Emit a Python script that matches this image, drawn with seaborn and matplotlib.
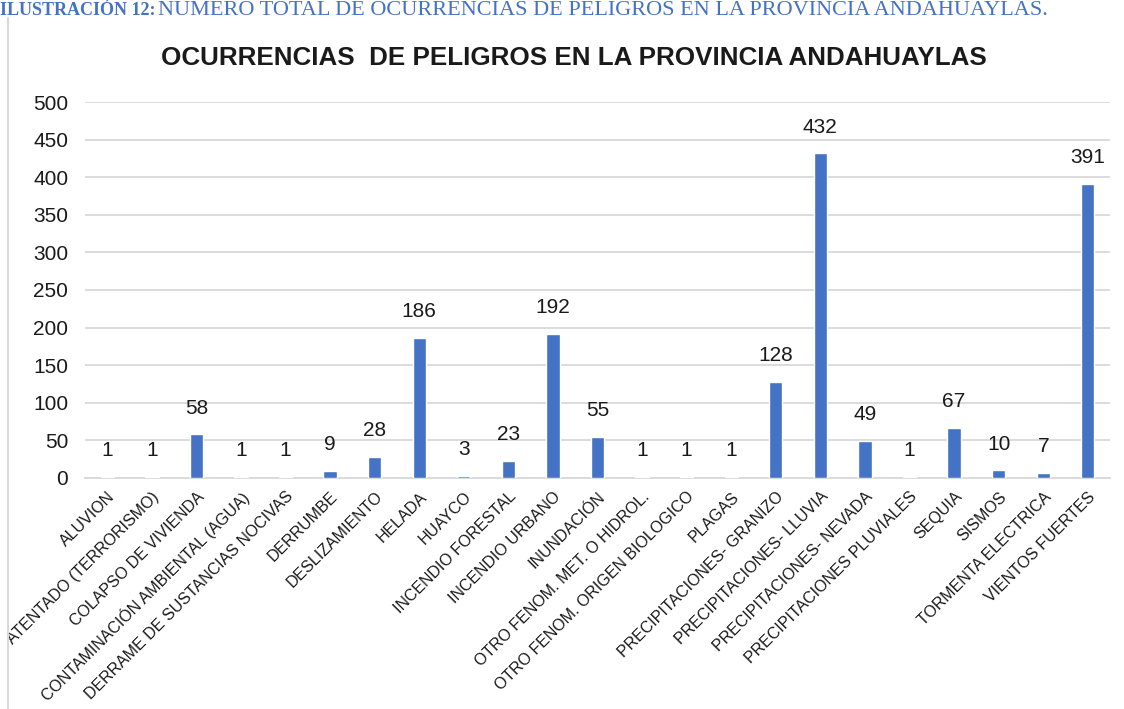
import matplotlib
matplotlib.use("Agg")
import matplotlib.pyplot as plt
import seaborn as sns
import pandas as pd
from matplotlib.lines import Line2D

categorias = [
    "ALUVION", "ATENTADO (TERRORISMO)", "COLAPSO DE VIVIENDA",
    "CONTAMINACIÓN AMBIENTAL (AGUA)", "DERRAME DE SUSTANCIAS NOCIVAS",
    "DERRUMBE", "DESLIZAMIENTO", "HELADA", "HUAYCO", "INCENDIO FORESTAL",
    "INCENDIO URBANO", "INUNDACIÓN", "OTRO FENOM. MET. O HIDROL.",
    "OTRO FENOM. ORIGEN BIOLOGICO", "PLAGAS", "PRECIPITACIONES- GRANIZO",
    "PRECIPITACIONES- LLUVIA", "PRECIPITACIONES- NEVADA",
    "PRECIPITACIONES PLUVIALES", "SEQUIA", "SISMOS", "TORMENTA ELECTRICA",
    "VIENTOS FUERTES",
]
ocurrencias = [1, 1, 58, 1, 1, 9, 28, 186, 3, 23, 192, 55, 1, 1, 1, 128, 432,
               49, 1, 67, 10, 7, 391]
y_ticks = [0, 50, 100, 150, 200, 250, 300, 350, 400, 450, 500]

df = pd.DataFrame({"peligro": categorias, "n": ocurrencias})

sns.set_theme(style="white")
plt.rcParams["font.family"] = ["Liberation Sans", "DejaVu Sans"]

fig = plt.figure(figsize=(11.24, 7.09), dpi=100)
ax = fig.add_axes([0.0756, 0.326, 0.912, 0.530])

sns.barplot(data=df, x="peligro", y="n", color="#4472C4", width=0.3,
            saturation=1, ax=ax, zorder=3)

ax.bar_label(ax.containers[0], labels=[str(v) for v in ocurrencias],
             padding=12, fontsize=15, color="#1a1a1a")

ax.set_ylim(0, 500)
ax.set_xlim(-0.5, len(categorias) - 0.5)
ax.set_yticks(y_ticks)
ax.yaxis.grid(True, color="#d9d9d9", linewidth=1.3)
ax.set_axisbelow(True)
for s in ["top", "right", "left"]:
    ax.spines[s].set_visible(False)
ax.spines["bottom"].set_color("#d9d9d9")
ax.spines["bottom"].set_linewidth(1.3)
ax.spines["bottom"].set_zorder(2)
ax.tick_params(axis="y", labelsize=15, colors="#1a1a1a", length=0, pad=12)
ax.tick_params(axis="x", labelsize=11.5, colors="#1a1a1a", length=0, pad=8)
plt.setp(ax.get_xticklabels(), rotation=45, ha="right", rotation_mode="anchor")
ax.set_xlabel("")
ax.set_ylabel("")

fig.text(0.511, 0.918, "OCURRENCIAS  DE PELIGROS EN LA PROVINCIA ANDAHUAYLAS",
         ha="center", va="center", fontsize=18.7, fontweight="bold",
         color="#1a1a1a")

# caption at the top edge
cap_y = 1 - 15 / 709
serif = ["Liberation Serif", "DejaVu Serif"]
t_bold = fig.text(0.0, cap_y, "ILUSTRACIÓN 12:", ha="left", va="baseline",
                  fontsize=13, fontweight="bold", color="#4472C4", family=serif)
fig.canvas.draw()
bb = t_bold.get_window_extent(renderer=fig.canvas.get_renderer())
fig.text((bb.x1 + 3) / fig.bbox.width, cap_y,
         "NÚMERO TOTAL DE OCURRENCIAS DE PELIGROS EN LA PROVINCIA ANDAHUAYLAS.",
         ha="left", va="baseline", fontsize=16, color="#4472C4", family=serif)

fig.add_artist(Line2D([0.0075, 0.0075], [0.0, 0.975], color="#d9d9d9",
                      linewidth=1.5, transform=fig.transFigure))

fig.savefig("out.png", dpi=100)
